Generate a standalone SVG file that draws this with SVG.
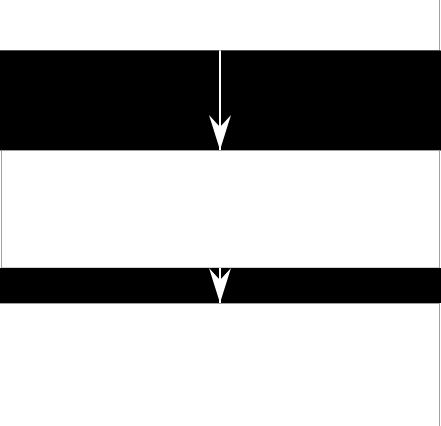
<svg xmlns="http://www.w3.org/2000/svg" width="441" height="426" viewBox="0 0 441 426">
  <style>
    .light { fill: #ffffff; stroke: #a0a0a0; stroke-width: 1; }
    .dark { fill: #000000; stroke: none; }
    .edge { stroke: #ffffff; stroke-width: 2; fill: none; }
  </style>
  <defs>
    <marker id="arrow" markerUnits="userSpaceOnUse" markerWidth="36" markerHeight="24" refX="35" refY="11" orient="auto" viewBox="0 0 36 22">
      <path d="M0,0 L35,11 L0,22 L12,11 Z" fill="#ffffff"/>
    </marker>
  </defs>
  <rect x="0" y="0" width="441" height="426" fill="#ffffff"/>
  <g id="node-top">
    <rect class="light" x="-1" y="-1" width="440.5" height="51.5"/>
  </g>
  <g id="node-band1">
    <rect class="dark" x="0" y="50.5" width="441" height="100"/>
  </g>
  <g id="node-middle">
    <rect class="light" x="1.5" y="150.5" width="438" height="117.5"/>
  </g>
  <g id="node-band2">
    <rect class="dark" x="0" y="268" width="441" height="35"/>
  </g>
  <g id="node-bottom">
    <rect class="light" x="-1" y="303.5" width="440.5" height="130"/>
  </g>
  <g id="connectors">
    <line class="edge" x1="220" y1="50.5" x2="220" y2="150" marker-end="url(#arrow)"/>
    <line class="edge" x1="220" y1="268" x2="220" y2="303" marker-end="url(#arrow)"/>
  </g>
</svg>
